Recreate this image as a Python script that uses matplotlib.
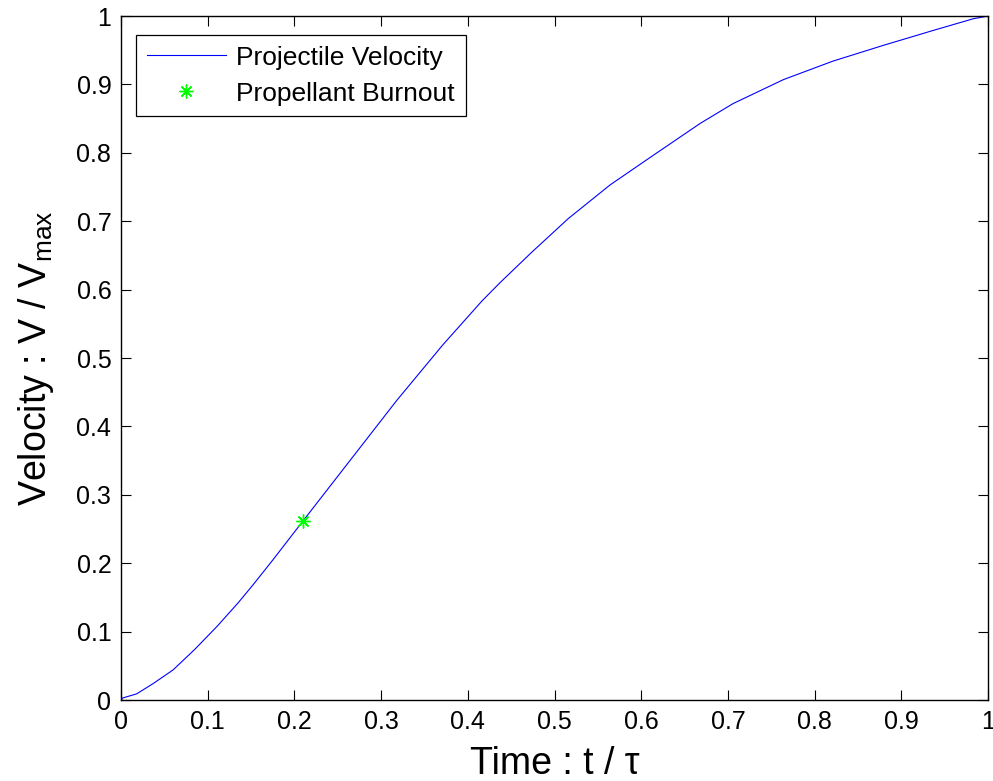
import matplotlib.pyplot as plt

plt.rcParams["font.family"] = ["Liberation Sans", "DejaVu Sans"]
plt.rcParams["mathtext.fontset"] = "custom"
plt.rcParams["mathtext.rm"] = "Liberation Sans"

# normalised time and velocity
time_norm = [0.0, 0.002, 0.018, 0.037, 0.06, 0.085, 0.111, 0.135, 0.152, 0.174,
             0.21, 0.264, 0.318, 0.371, 0.416, 0.437, 0.474, 0.516, 0.564, 0.61,
             0.668, 0.706, 0.764, 0.821, 0.879, 0.937, 0.983, 1.0]
vel_norm = [0.0, 0.003, 0.009, 0.024, 0.044, 0.074, 0.108, 0.142, 0.168, 0.203,
            0.262, 0.350, 0.438, 0.519, 0.583, 0.610, 0.655, 0.704, 0.753, 0.793,
            0.843, 0.872, 0.907, 0.934, 0.957, 0.979, 0.996, 1.0]
burnout_t = [0.21]
burnout_v = [0.262]

ticks = [0, 0.1, 0.2, 0.3, 0.4, 0.5, 0.6, 0.7, 0.8, 0.9, 1]
tick_labels = ["0", "0.1", "0.2", "0.3", "0.4", "0.5", "0.6", "0.7", "0.8", "0.9", "1"]

fig = plt.figure(figsize=(9.93, 7.81), dpi=100)
ax = fig.add_axes([0.1219, 0.1037, 0.8731, 0.8758])

ax.plot(time_norm, vel_norm, color="#0000ff", lw=0.8, label="Projectile Velocity")
ax.plot(burnout_t, burnout_v, ls="none", marker=(8, 2, 0), ms=10, mew=1.0,
        color="#00ff00", label="Propellant Burnout")

ax.set_xlim(0, 1)
ax.set_ylim(0, 1)
ax.set_xticks(ticks)
ax.set_xticklabels(tick_labels)
ax.set_yticks(ticks)
ax.set_yticklabels(tick_labels)
ax.tick_params(direction="in", length=7, width=0.8, top=True, right=True,
               labelsize=18, pad=7)
for sp in ax.spines.values():
    sp.set_linewidth(1.0)

ax.set_xlabel("Time : t / τ", fontsize=27, labelpad=9)
ax.set_ylabel("Velocity : V / V$_{\\mathrm{max}}$", fontsize=27, labelpad=15)

leg = ax.legend(loc="upper left", bbox_to_anchor=(0.0173, 0.972), fontsize=19,
                fancybox=False, framealpha=1, edgecolor="black",
                handlelength=3.0, borderpad=0.4, labelspacing=0.45,
                handletextpad=0.4, borderaxespad=0)
leg.get_frame().set_linewidth(0.9)

fig.savefig("out.png", dpi=100)
